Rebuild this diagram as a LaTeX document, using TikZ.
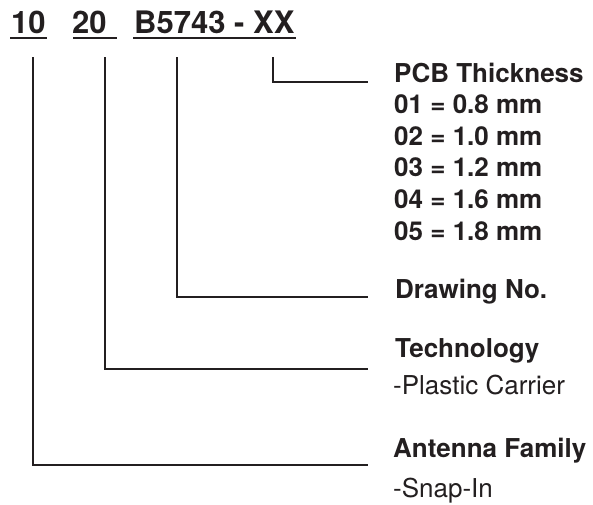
\documentclass[tikz,border=0pt]{standalone}
\usepackage{fontspec}
\setmainfont{TeX Gyre Heros}
\definecolor{ink}{HTML}{231F20}
\tikzset{
  code/.style={font=\fontsize{31}{37}\selectfont\bfseries, text=ink, inner sep=0pt, anchor=base west},
  head/.style={font=\fontsize{26}{31}\selectfont\bfseries, text=ink, inner sep=0pt, anchor=base west},
  note/.style={font=\fontsize{26}{31}\selectfont, text=ink, inner sep=0pt, anchor=base west},
  uline/.style={draw=ink, line width=2pt},
  lead/.style={draw=ink, line width=2.4pt}
}
\begin{document}
\begin{tikzpicture}[x=1pt,y=-1pt]
\useasboundingbox (0,0) rectangle (593,504);

% part number
\node[code] (fam)  at (11,33)  {10};
\node[code] (tech) at (72,33)  {20};
\node[code] (dwg)  at (134,33) {B5743 - XX};
\draw[uline] ([xshift=-1pt,yshift=-5pt]fam.base west)  -- ([xshift=1pt,yshift=-5pt]fam.base east);
\draw[uline] ([xshift=1pt,yshift=-5pt]tech.base west)  -- ([xshift=10pt,yshift=-5pt]tech.base east);
\draw[uline] ([xshift=-1pt,yshift=-5pt]dwg.base west)  -- ([xshift=1pt,yshift=-5pt]dwg.base east);

% legend
\node[head] (pcb) at (394,82) {PCB Thickness};
\foreach \v [count=\i] in {0.8,1.0,1.2,1.6,1.8}
	\node[head] (pcb\i) at (394,{82+31.6*\i}) {0\i{} = \v{} mm};
\node[head] (drawing) at (395,298) {Drawing No.};
\node[head] (technology) at (395,357) {Technology};
\node[note] (carrier) at (393,394) {-Plastic Carrier};
\node[head] (family) at (393,457) {Antenna Family};
\node[note] (snapin) at (393,497) {-Snap-In};

% leaders
\foreach \sx/\ey/\nm in {273/82/xx, 177/297/dwg, 105/369/tech, 33/465/fam} {
	\coordinate (top-\nm) at (\sx,57);
	\coordinate (end-\nm) at (368,\ey);
	\draw[lead] (top-\nm) |- (end-\nm);
}
\end{tikzpicture}
\end{document}
